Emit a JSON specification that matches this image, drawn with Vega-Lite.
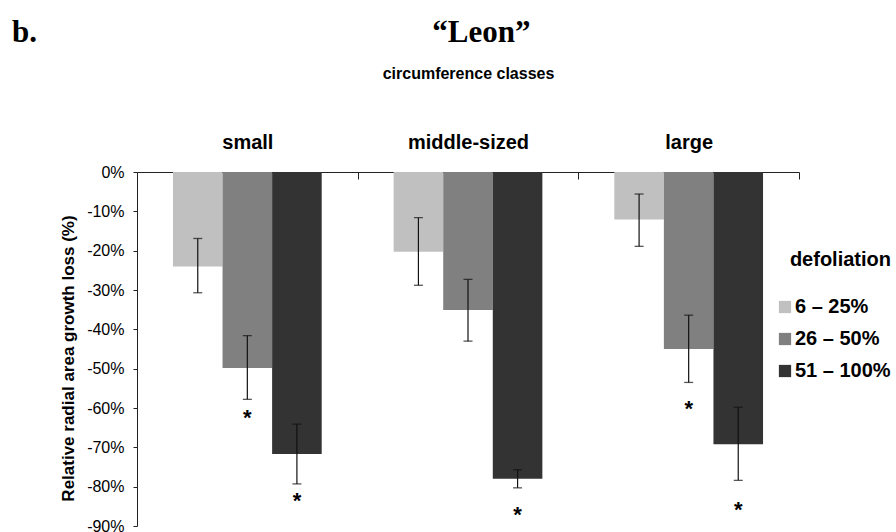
{
  "$schema": "https://vega.github.io/schema/vega-lite/v6.json",
  "width": 662,
  "height": 354,
  "autosize": {"type": "none"},
  "padding": {"left": 137, "top": 172, "right": 97, "bottom": 6},
  "background": "white",
  "config": {
    "view": {"stroke": null},
    "axisY": {
      "labelOverlap": false,
      "labelFlush": false,
      "tickCount": 9,
      "grid": false,
      "tickSize": 4,
      "labelPadding": 9,
      "labelFont": "Liberation Sans",
      "labelFontSize": 16,
      "labelColor": "black",
      "domainColor": "#222",
      "tickColor": "#222",
      "titleFont": "Liberation Sans",
      "titleFontSize": 17,
      "titleFontWeight": "bold",
      "titleColor": "black",
      "titleX": -64,
      "titleY": 186,
      "titleBaseline": "alphabetic"
    }
  },
  "title": {
    "text": "b.\u00a0\u00a0\u00a0\u00a0\u00a0\u00a0\u00a0\u00a0\u00a0\u00a0\u00a0\u00a0\u00a0\u00a0\u00a0\u00a0\u00a0\u00a0\u00a0\u00a0\u00a0\u00a0\u00a0\u00a0\u00a0\u00a0\u00a0\u00a0\u00a0\u00a0\u00a0\u00a0\u00a0\u00a0\u00a0\u00a0\u00a0\u00a0\u00a0\u00a0\u00a0\u00a0\u00a0\u00a0\u00a0\u00a0\u00a0\u00a0\u00a0\u00a0\u00a0“Leon”",
    "anchor": "start",
    "frame": "group",
    "dx": -125,
    "dy": 37,
    "font": "Liberation Serif",
    "fontSize": 31,
    "fontWeight": "bold",
    "color": "black",
    "baseline": "alphabetic",
    "offset": 29
  },
  "data": {
    "values": [
      {"class": "small", "defol": "6 – 25%", "value": -24.0, "lo": -30.7, "hi": -16.9, "star": null},
      {"class": "small", "defol": "26 – 50%", "value": -49.8, "lo": -57.8, "hi": -41.6, "star": -60.9},
      {"class": "small", "defol": "51 – 100%", "value": -71.7, "lo": -79.3, "hi": -64.1, "star": -82.2},
      {"class": "middle-sized", "defol": "6 – 25%", "value": -20.3, "lo": -28.8, "hi": -11.6, "star": null},
      {"class": "middle-sized", "defol": "26 – 50%", "value": -35.1, "lo": -43.0, "hi": -27.3, "star": null},
      {"class": "middle-sized", "defol": "51 – 100%", "value": -78.0, "lo": -80.3, "hi": -75.7, "star": -85.6},
      {"class": "large", "defol": "6 – 25%", "value": -12.1, "lo": -18.9, "hi": -5.6, "star": null},
      {"class": "large", "defol": "26 – 50%", "value": -45.0, "lo": -53.5, "hi": -36.4, "star": -58.7},
      {"class": "large", "defol": "51 – 100%", "value": -69.2, "lo": -78.4, "hi": -59.8, "star": -84.3}
    ]
  },
  "encoding": {
    "x": {
      "field": "class",
      "type": "nominal",
      "sort": ["small", "middle-sized", "large"],
      "scale": {"paddingInner": 0.326, "paddingOuter": 0.163},
      "axis": {
        "orient": "top",
        "title": "circumference classes",
        "titleFont": "Liberation Sans",
        "titleFontSize": 16,
        "titleFontWeight": "bold",
        "titleColor": "black",
        "titleY": -94,
        "titleBaseline": "alphabetic",
        "labelFont": "Liberation Sans",
        "labelFontSize": 20,
        "labelFontWeight": "bold",
        "labelColor": "black",
        "labelAngle": 0,
        "labelBaseline": "alphabetic",
        "labelPadding": 31,
        "tickSize": -7,
        "tickOffset": 110.3,
        "labelOffset": -110.3,
        "domainColor": "#222",
        "tickColor": "#222"
      }
    },
    "xOffset": {"field": "defol", "type": "nominal", "sort": ["6 – 25%", "26 – 50%", "51 – 100%"]}
  },
  "layer": [
    {
      "mark": {"type": "bar"},
      "encoding": {
        "y": {
          "field": "value",
          "type": "quantitative",
          "scale": {"domain": [-90, 0], "nice": false},
          "axis": {
            "labelExpr": "datum.value + '%'",
            "labelOverlap": false,
            "title": "Relative radial area growth loss (%)"
          }
        },
        "color": {
          "field": "defol",
          "type": "nominal",
          "sort": ["6 – 25%", "26 – 50%", "51 – 100%"],
          "scale": {"domain": ["6 – 25%", "26 – 50%", "51 – 100%"], "range": ["#c0c0c0", "#808080", "#333333"]},
          "legend": {
            "title": "defoliation",
            "orient": "none",
            "legendX": 638,
            "legendY": 78,
            "padding": 0,
            "titleFont": "Liberation Sans",
            "titleFontSize": 20,
            "titleFontWeight": "bold",
            "titleColor": "black",
            "titleAnchor": "end",
            "titlePadding": 27,
            "labelFont": "Liberation Sans",
            "labelFontSize": 20,
            "labelFontWeight": "bold",
            "labelColor": "black",
            "labelOffset": 0,
            "symbolType": "square",
            "symbolSize": 150,
            "symbolStrokeWidth": 0,
            "symbolOpacity": 1,
            "rowPadding": 12
          }
        }
      }
    },
    {
      "mark": {"type": "rule", "color": "#111", "strokeWidth": 1.2},
      "encoding": {
        "y": {"field": "lo", "type": "quantitative", "axis": {"labelExpr": "datum.value + '%'", "labelOverlap": false, "title": "Relative radial area growth loss (%)"}},
        "y2": {"field": "hi"}
      }
    },
    {
      "mark": {"type": "tick", "color": "#111", "size": 9, "thickness": 1.3, "orient": "horizontal"},
      "encoding": {"y": {"field": "lo", "type": "quantitative", "axis": {"labelExpr": "datum.value + '%'", "labelOverlap": false, "title": "Relative radial area growth loss (%)"}}}
    },
    {
      "mark": {"type": "tick", "color": "#111", "size": 9, "thickness": 1.3, "orient": "horizontal"},
      "encoding": {"y": {"field": "hi", "type": "quantitative", "axis": {"labelExpr": "datum.value + '%'", "labelOverlap": false, "title": "Relative radial area growth loss (%)"}}}
    },
    {
      "transform": [{"filter": "datum.star != null"}],
      "mark": {"type": "text", "text": "*", "font": "Liberation Sans", "fontSize": 22, "fontWeight": "bold", "color": "black", "baseline": "alphabetic", "dy": 13},
      "encoding": {"y": {"field": "star", "type": "quantitative", "axis": {"labelExpr": "datum.value + '%'", "labelOverlap": false, "title": "Relative radial area growth loss (%)"}}}
    }
  ]
}
